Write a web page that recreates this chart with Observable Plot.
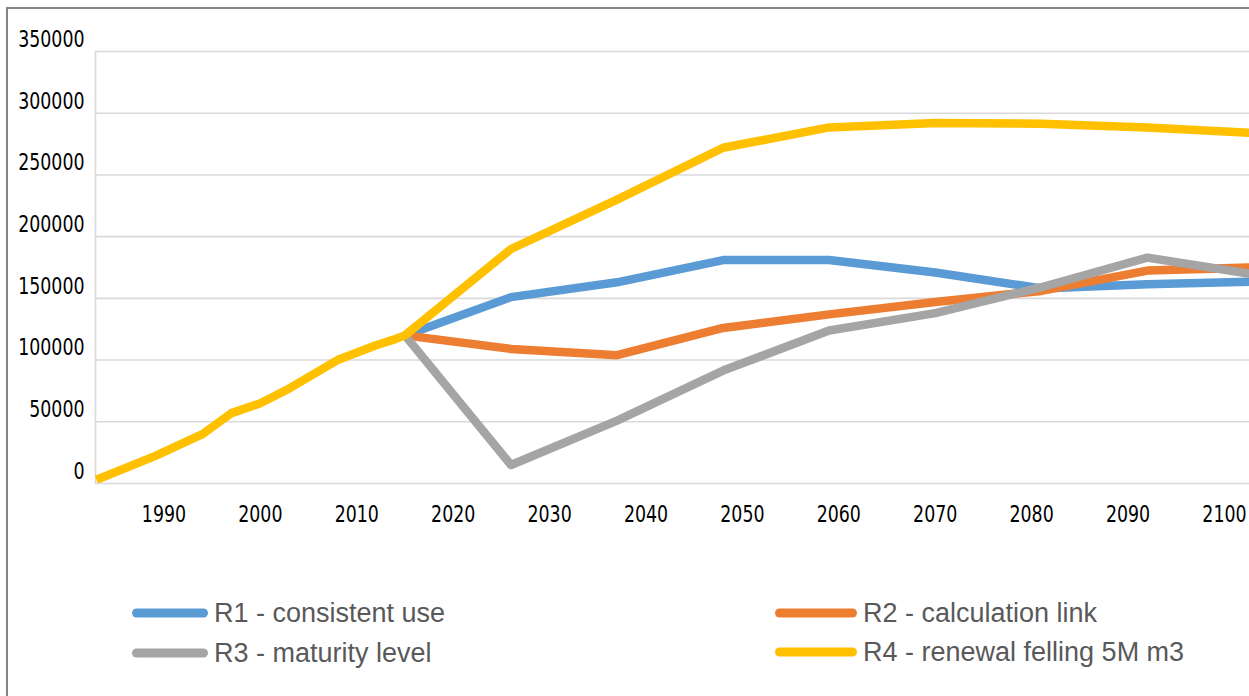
<!DOCTYPE html>
<html>
<head>
<meta charset="utf-8">
<script src="https://cdn.jsdelivr.net/npm/d3@7"></script>
<script src="https://cdn.jsdelivr.net/npm/@observablehq/plot@0.6"></script>
<style>
  html, body { margin: 0; padding: 0; background: #fff; }
  #wrap { position: relative; width: 1249px; height: 696px; overflow: hidden; }
  #frame { position: absolute; left: 6px; top: 7px; right: -4px; bottom: -4px;
           border-top: 2px solid #858585; border-left: 2px solid #858585; }
  #chart { position: absolute; left: 0; top: 0; }
  #legend { position: absolute; left: 0; top: 540px; width: 1249px; height: 156px;
            font-family: "Liberation Sans", Arial, sans-serif; font-size: 27px; color: #595959; }
  .item { position: absolute; display: flex; align-items: center; white-space: nowrap; }
  .item svg { margin-right: 6px; }
</style>
</head>
<body>
<div id="wrap">
  <div id="frame"></div>
  <div id="chart"></div>
  <div id="legend"></div>
</div>
<script>
// Historical growing stock, shared by all scenarios up to 2015
const historyYears = [1983, 1989, 1994, 1997, 2000, 2003, 2008, 2012, 2014, 2015];
const historyValues = [3000, 22000, 40000, 57000, 65000, 77000, 100000, 112000, 117000, 120000];

// Scenario projections
const scenarioYears = [2015, 2026, 2037, 2048, 2059, 2070, 2081, 2092, 2103];
const r1Values = [120000, 151000, 163000, 181000, 181000, 171000, 158000, 161500, 163500];
const r2Values = [120000, 109000, 104000, 126000, 137000, 147000, 156000, 172500, 175000];
const r3Values = [120000, 15000, 51000, 91500, 124000, 138000, 159000, 183000, 169500];
const r4Values = [120000, 190000, 230000, 272000, 288500, 292000, 291500, 288500, 284000];

const seriesNames = ["R1 - consistent use", "R2 - calculation link", "R3 - maturity level", "R4 - renewal felling 5M m3"];
const seriesColors = ["#5b9bd5", "#ed7d31", "#a5a5a5", "#ffc000"];

const xTicks = [1990, 2000, 2010, 2020, 2030, 2040, 2050, 2060, 2070, 2080, 2090, 2100];
const yTicks = [0, 50000, 100000, 150000, 200000, 250000, 300000, 350000];

// Build one long table: R1–R3 start in 2015, R4 carries the history
const rows = [];
[r1Values, r2Values, r3Values].forEach((vals, i) => {
  scenarioYears.forEach((yr, j) => rows.push({series: seriesNames[i], year: yr, value: vals[j]}));
});
historyYears.forEach((yr, j) => rows.push({series: seriesNames[3], year: yr, value: historyValues[j]}));
scenarioYears.slice(1).forEach((yr, j) => rows.push({series: seriesNames[3], year: yr, value: r4Values[j + 1]}));

const axisFont = '"DejaVu Sans Condensed", "DejaVu Sans", sans-serif';

const chart = Plot.plot({
  width: 1249,
  height: 540,
  marginLeft: 95,
  marginRight: 0,
  marginTop: 51,
  marginBottom: 57,
  style: {fontFamily: axisFont, fontSize: "23px", color: "#000", background: "transparent", overflow: "visible"},
  x: {domain: [1982.9, 2102.6]},
  y: {domain: [0, 350000]},
  color: {domain: seriesNames, range: seriesColors},
  marks: [
    Plot.gridY(yTicks, {stroke: "#d9d9d9", strokeOpacity: 1, strokeWidth: 1.6}),
    Plot.ruleX([1982.9], {y1: 0, y2: 350000, stroke: "#d9d9d9", strokeWidth: 1.6}),
    Plot.axisY(yTicks, {tickSize: 0, tickPadding: 11, dy: -12, tickFormat: d3.format("d"), label: null}),
    Plot.axisX(xTicks, {tickSize: 0, tickPadding: 22, tickFormat: d3.format("d"), label: null}),
    Plot.line(rows, {
      x: "year", y: "value", z: "series", stroke: "series",
      strokeWidth: 8.5, strokeLinejoin: "round", strokeLinecap: "butt", clip: true
    })
  ]
});
document.getElementById("chart").appendChild(chart);

// Narrow the tick labels horizontally (condensed look)
d3.select(chart).selectAll('g[aria-label="y-axis tick label"] text, g[aria-label="x-axis tick label"] text')
  .each(function() {
    const len = this.getComputedTextLength();
    this.setAttribute("textLength", (len * 0.84).toFixed(1));
    this.setAttribute("lengthAdjust", "spacingAndGlyphs");
  });

// Legend below the plot
const legendSpots = [
  {left: 132, top: 73, swatch: 76},
  {left: 775, top: 73, swatch: 82},
  {left: 132, top: 113, swatch: 76},
  {left: 775, top: 112, swatch: 82}
];
const legend = document.getElementById("legend");
seriesNames.forEach((name, i) => {
  const spot = legendSpots[i];
  const item = document.createElement("div");
  item.className = "item";
  item.style.left = spot.left + "px";
  item.style.top = (spot.top - 20) + "px";
  item.style.height = "40px";
  const w = spot.swatch;
  item.innerHTML = `<svg width="${w}" height="12"><line x1="4.5" x2="${w - 4.5}" y1="6" y2="6" stroke="${seriesColors[i]}" stroke-width="9" stroke-linecap="round"/></svg><span>${name}</span>`;
  legend.appendChild(item);
});
</script>
</body>
</html>
